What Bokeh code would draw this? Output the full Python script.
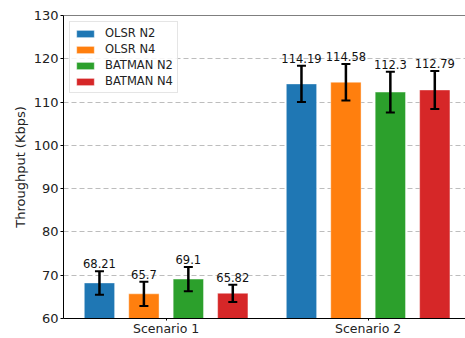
from bokeh.plotting import figure
from bokeh.models import Range1d, FixedTicker, ColumnDataSource, Whisker, TeeHead, Span, Legend, LegendItem
from bokeh.core.properties import value
from bokeh.embed import file_html
from bokeh.resources import INLINE

scenarios = ["Scenario 1", "Scenario 2"]
series = ["OLSR N2", "OLSR N4", "BATMAN N2", "BATMAN N4"]
olsr_n2 = [68.21, 114.19]
olsr_n4 = [65.7, 114.58]
batman_n2 = [69.1, 112.3]
batman_n4 = [65.82, 112.79]
olsr_n2_err = [2.7, 4.2]
olsr_n4_err = [2.8, 4.2]
batman_n2_err = [2.8, 4.7]
batman_n4_err = [2.0, 4.4]
y_ticks = [60, 70, 80, 90, 100, 110, 120, 130]

values = [olsr_n2, olsr_n4, batman_n2, batman_n4]
errors = [olsr_n2_err, olsr_n4_err, batman_n2_err, batman_n4_err]
colors = ["#1f77b4", "#ff7f0e", "#2ca02c", "#d62728"]
FONT = "DejaVu Sans"

p = figure(width=465, height=338, output_backend="svg", toolbar_location=None,
           x_range=Range1d(-0.508, 1.482), y_range=Range1d(60, 130),
           min_border_left=63, min_border_right=0, min_border_top=15, min_border_bottom=19)
p.outline_line_color = None
p.background_fill_color = "white"

p.xgrid.grid_line_color = None
p.ygrid.grid_line_color = "#bdbdbd"
p.ygrid.grid_line_dash = "5 3"
p.ygrid.grid_line_width = 1
p.ygrid.ticker = FixedTicker(ticks=y_ticks)

p.yaxis.ticker = FixedTicker(ticks=y_ticks)
p.xaxis.ticker = FixedTicker(ticks=list(range(len(scenarios))))
p.xaxis.major_label_overrides = {i: s for i, s in enumerate(scenarios)}
for ax in (p.xaxis, p.yaxis):
    ax.major_label_text_font = FONT
    ax.major_label_text_font_size = "13px"
    ax.major_label_text_color = "#222222"
    ax.axis_line_color = "black"
    ax.major_tick_line_color = "black"
    ax.minor_tick_line_color = None
    ax.major_tick_in = 0
    ax.major_tick_out = 3
    ax.major_label_standoff = 2
p.xaxis.major_label_text_font_size = "12.5px"
p.xaxis.major_label_standoff = 0
p.xaxis.major_tick_out = 2
p.yaxis.axis_label = "Throughput (Kbps)"
p.yaxis.axis_label_text_font = FONT
p.yaxis.axis_label_text_font_style = "normal"
p.yaxis.axis_label_text_font_size = "13px"
p.yaxis.axis_label_text_color = "#222222"
p.yaxis.axis_label_standoff = 3

p.add_layout(Span(location=130, dimension="width", line_color="black", line_width=1))

width = 0.15
step = 0.22
items = []
for i, (name, vals, errs, col) in enumerate(zip(series, values, errors, colors)):
    off = (i - 1.5) * step
    xs = [k + off for k in range(len(scenarios))]
    src = ColumnDataSource(dict(
        x=xs, top=vals,
        upper=[v + e for v, e in zip(vals, errs)],
        lower=[v - e for v, e in zip(vals, errs)],
        label=[str(v) for v in vals],
    ))
    r = p.vbar(x="x", top="top", bottom=0, width=width, source=src,
               fill_color=col, line_color="white", line_alpha=0.4, line_width=1)
    items.append(LegendItem(label=name, renderers=[r]))
    w = Whisker(source=src, base="x", upper="upper", lower="lower",
                line_color="black", line_width=2.5, level="overlay",
                upper_head=TeeHead(size=9, line_color="black", line_width=2),
                lower_head=TeeHead(size=9, line_color="black", line_width=2))
    p.add_layout(w)
    p.text(x="x", y="upper", text="label", source=src, text_align="center",
           text_baseline="bottom", y_offset=-3, text_font=value(FONT),
           text_font_size="11.5px", text_color="#111111")

legend = Legend(items=items, location="top_left")
legend.label_text_font = FONT
legend.label_text_font_size = "11.5px"
legend.label_text_color = "#222222"
legend.glyph_width = 22
legend.glyph_height = 9
legend.label_height = 12
legend.spacing = 2
legend.padding = 4
legend.margin = 6
legend.label_standoff = 9
legend.border_line_color = "#cccccc"
legend.border_line_width = 1
legend.background_fill_alpha = 0.85
p.add_layout(legend)

open("out.html", "w").write(file_html(p, INLINE))
